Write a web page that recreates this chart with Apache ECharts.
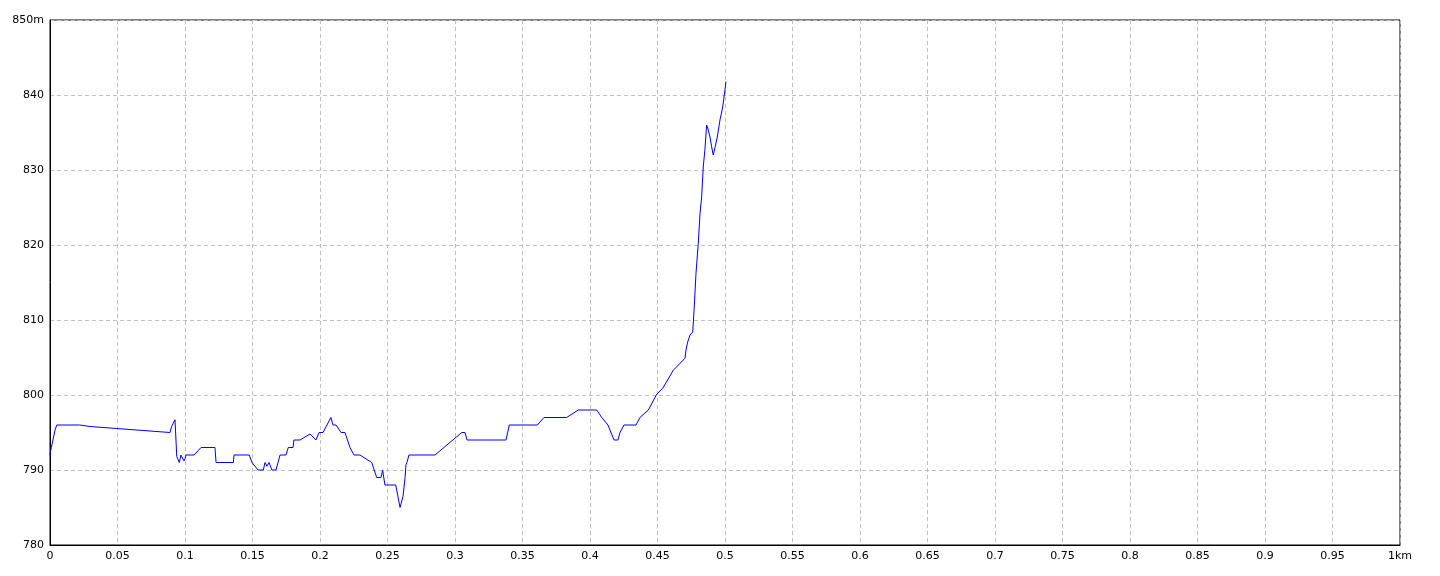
<!DOCTYPE html>
<html>
<head>
<meta charset="utf-8">
<script src="https://cdn.jsdelivr.net/npm/echarts@6/dist/echarts.min.js"></script>
<style>
html,body{margin:0;padding:0;background:#fff;}
#c{width:1440px;height:576px;}
</style>
</head>
<body>
<div id="c"></div>
<script>
// distance (km)
const distance = [0.0000,0.0004,0.0010,0.0020,0.0037,0.0050,0.0220,0.0296,0.0889,0.0901,0.0911,0.0926,0.0939,0.0958,0.0970,0.0993,0.1000,0.1007,0.1067,0.1119,0.1222,0.1230,0.1358,0.1363,0.1476,0.1496,0.1541,0.1580,0.1593,0.1607,0.1622,0.1644,0.1674,0.1704,0.1748,0.1765,0.1800,0.1807,0.1852,0.1926,0.1970,0.1993,0.2022,0.2081,0.2096,0.2119,0.2156,0.2185,0.2222,0.2252,0.2296,0.2383,0.2420,0.2452,0.2464,0.2481,0.2561,0.2593,0.2615,0.2630,0.2637,0.2644,0.2659,0.2852,0.3050,0.3074,0.3089,0.3378,0.3402,0.3610,0.3659,0.3827,0.3913,0.4050,0.4087,0.4133,0.4178,0.4207,0.4222,0.4252,0.4341,0.4370,0.4432,0.4494,0.4539,0.4617,0.4704,0.4711,0.4724,0.4741,0.4761,0.4773,0.4785,0.4802,0.4815,0.4827,0.4839,0.4852,0.4864,0.4872,0.4889,0.4901,0.4913,0.4926,0.4943,0.4963,0.4983,0.5000,0.5007];
// elevation (m)
const elevation = [792.0,792.5,793.0,793.0,795.3,796.0,796.0,795.8,795.0,795.8,796.0,796.7,791.8,791.0,792.0,791.2,791.5,792.0,792.0,793.0,793.0,791.0,791.0,792.0,792.0,791.0,790.0,790.0,791.0,790.5,791.0,790.0,790.0,792.0,792.0,793.0,793.0,794.0,794.0,794.8,794.0,795.0,795.0,797.0,796.0,796.0,795.0,795.0,793.0,792.0,792.0,791.0,789.0,789.0,790.0,788.0,788.0,785.0,786.5,789.0,790.7,791.0,792.0,792.0,795.0,795.0,794.0,794.0,796.0,796.0,797.0,797.0,798.0,798.0,797.0,796.0,794.0,794.0,795.0,796.0,796.0,797.0,798.0,800.1,800.9,803.3,804.9,806.0,807.1,808.0,808.4,812.0,816.2,820.2,824.2,826.4,830.4,832.9,836.0,835.6,834.4,833.1,832.0,833.0,834.4,836.7,838.4,840.7,841.8];

const xMin = 0, xMax = 1, xStep = 0.05;
const yMin = 780, yMax = 850, yStep = 10;

const chart = echarts.init(document.getElementById('c'), null, {renderer: 'canvas'});
const fontFam = '"DejaVu Sans", "Liberation Sans", sans-serif';
chart.setOption({
  animation: false,
  backgroundColor: '#ffffff',
  grid: {left: 50, right: 40, top: 20, bottom: 31, show: true, borderColor: '#000', borderWidth: 1, backgroundColor: 'transparent'},
  xAxis: {
    type: 'value', min: xMin, max: xMax, interval: xStep,
    axisLine: {show: true, onZero: false, lineStyle: {color: '#000', width: 1}},
    axisTick: {show: false},
    splitLine: {show: true, lineStyle: {color: '#c0c0c0', type: [4, 3], width: 1}},
    axisLabel: {
      color: '#000', fontSize: 11, fontFamily: fontFam, margin: 6,
      formatter: v => { const s = String(+v.toFixed(2)); return v >= xMax - 1e-9 ? s + 'km' : s; }
    }
  },
  yAxis: {
    type: 'value', min: yMin, max: yMax, interval: yStep,
    axisLine: {show: true, onZero: false, lineStyle: {color: '#000', width: 1}},
    axisTick: {show: false},
    splitLine: {show: true, lineStyle: {color: '#c0c0c0', type: [4, 3], width: 1}},
    axisLabel: {
      color: '#000', fontSize: 11, fontFamily: fontFam, margin: 6,
      formatter: v => v >= yMax ? v + 'm' : String(v)
    }
  },
  series: [{
    type: 'line',
    data: distance.map((d, i) => [d, elevation[i]]),
    showSymbol: false,
    symbol: 'none',
    lineStyle: {color: '#0000ff', width: 1},
    itemStyle: {color: '#0000ff'}
  }]
});
</script>
</body>
</html>
